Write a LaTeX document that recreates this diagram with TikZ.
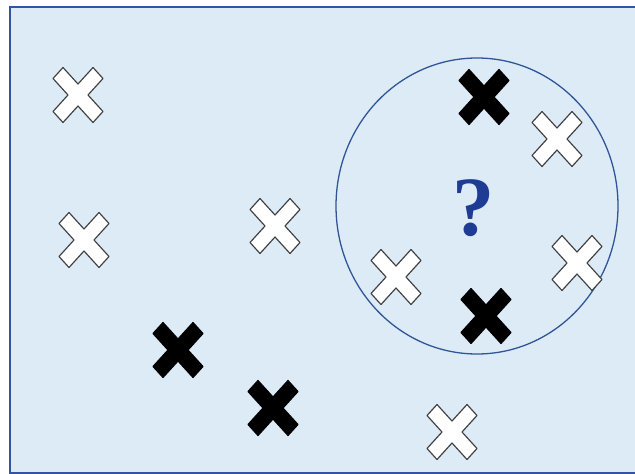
\documentclass[tikz,border=0pt]{standalone}
\usepackage{fontspec}
\setmainfont{Liberation Serif}
\usepackage{tikz}
\usetikzlibrary{positioning}
\definecolor{sky}{HTML}{DDEBF7}
\definecolor{frame}{HTML}{2F55A4}
\definecolor{ring}{HTML}{2F5597}
\definecolor{qblue}{HTML}{1F3C94}
\definecolor{edge}{HTML}{404040}
\tikzset{
  xmark/.pic={
    \path[pic actions] (0,0.4) -- (0.6,1) -- (1,0.6) -- (0.4,0) -- (1,-0.6)
      -- (0.6,-1) -- (0,-0.4) -- (-0.6,-1) -- (-1,-0.6) -- (-0.4,0)
      -- (-1,0.6) -- (-0.6,1) -- cycle;
  },
  xbase/.style={xscale=25,yscale=27.5,line width=1pt,line join=round},
  whitex/.style={xbase,fill=white,draw=edge},
  blackx/.style={xbase,fill=black,draw=black},
  qmark/.style={font=\fontsize{72}{72}\selectfont\bfseries,text=qblue,inner sep=0pt},
}

\begin{document}
\begin{tikzpicture}[x=0.03cm,y=-0.03cm]
  \useasboundingbox (0,0) rectangle (635,474);
  % background panel
  \fill[sky] (10,7) rectangle (640,473);
  \draw[frame,line width=1.9pt] (640,7) -- (10,7) -- (10,473) -- (640,473);
  % neighbourhood
  \draw[ring,line width=1.1pt] (477,206) ellipse [x radius=141,y radius=148];
  \node[qmark] (query) at (474,208) {?};
  % samples
  \foreach \px/\py in {78/95,84/240,275/226,396/277,557/139,577/263,452/432}
    \pic[whitex] at (\px,\py) {xmark};
  \foreach \px/\py in {484/97,178/350,273/408,486/316}
    \pic[blackx] at (\px,\py) {xmark};
\end{tikzpicture}
\end{document}
